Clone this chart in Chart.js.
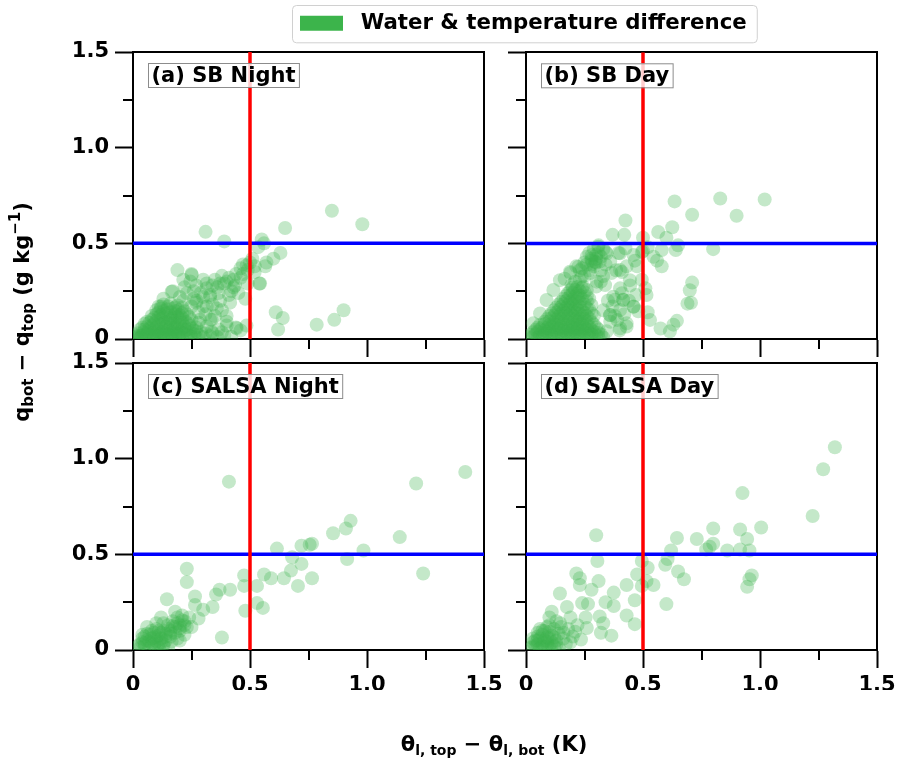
<!DOCTYPE html>
<html><head><meta charset="utf-8">
<script src="https://cdn.jsdelivr.net/npm/chart.js@4.4.1/dist/chart.umd.min.js"></script>
<style>
html,body{margin:0;padding:0;background:#fff;}
#wrap{position:relative;width:897px;height:762px;}
#wrap canvas{position:absolute;left:0;top:0;}
</style></head><body>
<div id="wrap">
<canvas id="cA" width="897" height="762"></canvas>
<canvas id="cB" width="897" height="762"></canvas>
<canvas id="cC" width="897" height="762"></canvas>
<canvas id="cD" width="897" height="762"></canvas>
</div>
<script>
const FAM = "'DejaVu Sans', sans-serif";
const axisTicks = [0, 0.5, 1.0, 1.5];
const tickLabels = ['0', '0.5', '1.0', '1.5'];
const minorTicks = [0.25, 0.75, 1.25];
const xThreshold = 0.5;
const yThreshold = 0.5;
const panelLabels = ['(a) SB Night', '(b) SB Day', '(c) SALSA Night', '(d) SALSA Day'];
const legendLabel = 'Water & temperature difference';

const sbNight = [
[0.85,0.67],[0.98,0.60],[0.65,0.58],[0.31,0.56],[0.39,0.51],[0.55,0.52],[0.56,0.50],[0.535,0.48],[0.63,0.45],[0.60,0.42],
[0.57,0.40],[0.565,0.38],[0.51,0.42],[0.50,0.40],[0.47,0.39],[0.46,0.37],[0.52,0.35],[0.44,0.34],[0.46,0.32],[0.54,0.29],
[0.49,0.29],[0.48,0.21],[0.43,0.27],[0.39,0.29],[0.36,0.27],[0.34,0.28],[0.315,0.265],[0.41,0.23],[0.365,0.24],[0.33,0.23],
[0.19,0.36],[0.25,0.34],[0.215,0.31],[0.245,0.30],[0.17,0.25],[0.13,0.21],[0.11,0.17],[0.215,0.20],[0.27,0.19],[0.30,0.17],
[0.34,0.18],[0.38,0.15],[0.33,0.10],[0.40,0.12],[0.40,0.07],[0.44,0.06],[0.46,0.045],[0.485,0.07],[0.365,0.05],[0.315,0.065],
[0.61,0.14],[0.64,0.11],[0.62,0.05],[0.785,0.075],[0.86,0.10],[0.90,0.15],
[0.315,0.29],[0.372,0.29],[0.40,0.30],[0.436,0.28],[0.486,0.385],[0.543,0.29],[0.329,0.22],[0.372,0.20],[0.272,0.20],[0.315,0.17],
[0.358,0.16],[0.415,0.19],[0.286,0.10],[0.336,0.10],[0.40,0.09],[0.443,0.056],[0.336,0.038],[0.251,0.056],[0.165,0.247],[0.251,0.335],
[0.20,0.22],[0.23,0.24],[0.26,0.25],[0.29,0.24],[0.22,0.27],[0.27,0.28],[0.30,0.31],[0.35,0.31],[0.38,0.33],[0.41,0.32],
[0.43,0.31],[0.47,0.34],[0.49,0.36],[0.52,0.38],[0.42,0.25],[0.45,0.24],[0.25,0.17],[0.28,0.14],[0.31,0.13],[0.35,0.12],
[0.30,0.22],[0.26,0.21],
[0.01,0.01],[0.03,0.005],[0.05,0.012],[0.07,0.008],[0.09,0.015],[0.11,0.01],[0.13,0.005],[0.15,0.012],[0.17,0.008],[0.19,0.015],
[0.21,0.01],[0.23,0.006],[0.25,0.012],[0.27,0.008],[0.30,0.01],[0.33,0.015],[0.36,0.01],[0.39,0.02],[0.42,0.012],
[0.02,0.03],[0.045,0.035],[0.065,0.04],[0.085,0.03],[0.105,0.04],[0.125,0.035],[0.145,0.045],[0.165,0.03],[0.185,0.04],[0.205,0.035],
[0.225,0.045],[0.245,0.03],[0.27,0.04],[0.29,0.035],
[0.04,0.06],[0.06,0.065],[0.08,0.07],[0.10,0.06],[0.12,0.075],[0.14,0.065],[0.16,0.07],[0.18,0.06],[0.20,0.075],[0.22,0.065],
[0.24,0.07],[0.27,0.06],
[0.06,0.09],[0.08,0.10],[0.10,0.095],[0.12,0.105],[0.14,0.09],[0.16,0.10],[0.18,0.095],[0.20,0.105],[0.225,0.09],[0.25,0.10],
[0.08,0.12],[0.10,0.13],[0.12,0.125],[0.14,0.135],[0.16,0.12],[0.18,0.13],[0.20,0.125],[0.23,0.13],
[0.10,0.15],[0.12,0.16],[0.145,0.155],[0.17,0.16],[0.195,0.15],[0.22,0.145],
[0.13,0.18],[0.16,0.185],[0.19,0.175],
[0.02,0.015],[0.04,0.02],[0.06,0.025],[0.08,0.015],[0.10,0.02],[0.12,0.025],[0.14,0.02],[0.16,0.018],[0.18,0.025],[0.20,0.02],
[0.05,0.05],[0.09,0.05],[0.13,0.055],[0.17,0.05],[0.21,0.055],[0.11,0.08],[0.15,0.085],[0.19,0.08],[0.13,0.11],[0.17,0.11],
[0.03,0.05],[0.07,0.055],[0.11,0.045],[0.15,0.05],[0.19,0.055],[0.23,0.05],[0.26,0.045],
[0.05,0.08],[0.07,0.085],[0.09,0.08],[0.13,0.085],[0.17,0.08],[0.21,0.085],[0.24,0.08],[0.28,0.085],
[0.09,0.11],[0.11,0.115],[0.15,0.11],[0.19,0.115],[0.21,0.11],[0.24,0.115],
[0.11,0.14],[0.13,0.145],[0.16,0.14],[0.18,0.145],[0.21,0.135],
[0.12,0.17],[0.15,0.17],[0.18,0.165],[0.21,0.165],
[0.005,0.005],[0.015,0.02],[0.035,0.015],[0.055,0.03],[0.075,0.02],[0.095,0.035],[0.115,0.025],[0.135,0.035],[0.155,0.025],[0.175,0.035],
[0.195,0.025],[0.215,0.03],[0.235,0.02],[0.26,0.025],[0.28,0.02],[0.31,0.03],[0.34,0.03],[0.38,0.035]
];

const sbDay = [
[1.02,0.73],[0.83,0.735],[0.635,0.72],[0.90,0.645],[0.71,0.65],[0.425,0.62],[0.625,0.585],[0.565,0.56],[0.37,0.545],[0.42,0.545],
[0.50,0.53],[0.60,0.53],[0.65,0.49],[0.64,0.465],[0.80,0.47],[0.58,0.465],[0.545,0.43],[0.56,0.41],[0.58,0.38],[0.495,0.455],
[0.465,0.41],[0.475,0.38],[0.425,0.475],[0.395,0.45],[0.31,0.49],[0.34,0.455],[0.28,0.41],[0.315,0.405],[0.36,0.405],[0.385,0.36],
[0.41,0.35],[0.365,0.345],[0.23,0.36],[0.19,0.345],[0.165,0.315],[0.215,0.38],[0.275,0.345],[0.32,0.30],[0.30,0.275],[0.445,0.28],
[0.495,0.31],[0.51,0.265],[0.515,0.23],[0.71,0.295],[0.70,0.255],[0.705,0.19],[0.69,0.185],[0.41,0.24],[0.38,0.205],[0.415,0.205],
[0.46,0.17],[0.48,0.145],[0.53,0.10],[0.52,0.14],[0.575,0.055],[0.615,0.04],[0.645,0.095],[0.63,0.075],[0.36,0.125],[0.38,0.12],
[0.40,0.045],[0.43,0.065],[0.345,0.04],
[0.26,0.43],[0.27,0.45],[0.29,0.47],[0.30,0.44],[0.25,0.40],[0.33,0.47],[0.24,0.37],[0.28,0.39],[0.30,0.42],[0.32,0.43],
[0.309,0.483],[0.281,0.439],[0.345,0.448],[0.402,0.448],[0.295,0.404],[0.402,0.361],[0.224,0.378],[0.188,0.352],[0.238,0.326],[0.195,0.282],
[0.245,0.273],[0.302,0.30],[0.338,0.282],[0.402,0.265],[0.444,0.308],[0.373,0.221],[0.416,0.204],[0.459,0.169],[0.402,0.152],[0.359,0.125],
[0.43,0.082],[0.402,0.056],[0.145,0.308],[0.117,0.256],[0.088,0.204],[0.06,0.134],[0.031,0.082],
[0.35,0.20],[0.37,0.17],[0.33,0.15],[0.36,0.09],[0.39,0.10],[0.42,0.13],[0.44,0.20],[0.47,0.23],[0.43,0.38],[0.46,0.44],
[0.50,0.46],[0.52,0.48],
[0.21,0.30],[0.23,0.31],[0.25,0.33],[0.27,0.36],[0.29,0.38],[0.26,0.39],[0.28,0.42],[0.31,0.45],[0.30,0.40],[0.32,0.36],
[0.34,0.39],[0.33,0.33],
[0.01,0.01],[0.03,0.012],[0.05,0.008],[0.07,0.012],[0.09,0.01],[0.11,0.014],[0.13,0.008],[0.15,0.012],[0.17,0.01],[0.19,0.014],
[0.21,0.008],[0.23,0.012],[0.25,0.01],[0.27,0.014],[0.29,0.01],[0.31,0.012],[0.33,0.008],
[0.03,0.035],[0.05,0.038],[0.07,0.032],[0.09,0.036],[0.11,0.034],[0.13,0.038],[0.15,0.032],[0.17,0.036],[0.19,0.034],[0.21,0.038],
[0.23,0.032],[0.25,0.036],[0.27,0.034],[0.29,0.038],[0.31,0.032],
[0.05,0.06],[0.07,0.062],[0.09,0.058],[0.11,0.064],[0.13,0.06],[0.15,0.062],[0.17,0.058],[0.19,0.064],[0.21,0.06],[0.23,0.062],
[0.25,0.058],[0.27,0.064],[0.30,0.06],
[0.08,0.09],[0.10,0.092],[0.12,0.088],[0.14,0.094],[0.16,0.09],[0.18,0.092],[0.20,0.088],[0.22,0.094],[0.24,0.09],[0.26,0.092],
[0.28,0.088],
[0.10,0.12],[0.12,0.122],[0.14,0.118],[0.16,0.124],[0.18,0.12],[0.20,0.122],[0.22,0.118],[0.24,0.124],[0.26,0.12],[0.29,0.122],
[0.12,0.15],[0.14,0.152],[0.16,0.148],[0.18,0.154],[0.20,0.15],[0.22,0.152],[0.24,0.148],[0.27,0.154],
[0.14,0.18],[0.16,0.182],[0.18,0.178],[0.20,0.184],[0.22,0.18],[0.25,0.182],[0.28,0.178],
[0.16,0.21],[0.18,0.212],[0.20,0.208],[0.22,0.214],[0.24,0.21],[0.27,0.212],
[0.18,0.24],[0.20,0.242],[0.22,0.238],[0.25,0.244],
[0.20,0.27],[0.22,0.272],[0.24,0.268],
[0.02,0.022],[0.04,0.025],[0.06,0.02],[0.08,0.025],[0.10,0.022],[0.12,0.026],[0.14,0.02],[0.16,0.024],[0.18,0.022],[0.20,0.026],
[0.22,0.02],[0.24,0.024],[0.26,0.022],[0.28,0.026],[0.30,0.02],[0.32,0.024],
[0.04,0.048],[0.06,0.05],[0.08,0.046],[0.10,0.05],[0.12,0.048],[0.14,0.052],[0.16,0.046],[0.18,0.05],[0.20,0.048],[0.22,0.052],
[0.24,0.046],[0.26,0.05],[0.28,0.048],[0.31,0.05],
[0.06,0.075],[0.08,0.078],[0.10,0.072],[0.12,0.076],[0.14,0.074],[0.16,0.078],[0.18,0.072],[0.20,0.076],[0.22,0.074],[0.24,0.078],
[0.26,0.072],[0.29,0.076],
[0.09,0.105],[0.11,0.108],[0.13,0.102],[0.15,0.106],[0.17,0.104],[0.19,0.108],[0.21,0.102],[0.23,0.106],[0.25,0.104],[0.27,0.108],
[0.11,0.135],[0.13,0.138],[0.15,0.132],[0.17,0.136],[0.19,0.134],[0.21,0.138],[0.23,0.132],[0.25,0.136],[0.28,0.134],
[0.13,0.165],[0.15,0.168],[0.17,0.162],[0.19,0.166],[0.21,0.164],[0.23,0.168],[0.26,0.162],
[0.15,0.195],[0.17,0.198],[0.19,0.192],[0.21,0.196],[0.23,0.194],[0.26,0.198],
[0.17,0.225],[0.19,0.228],[0.21,0.222],[0.23,0.226],[0.26,0.224],
[0.19,0.255],[0.21,0.258],[0.23,0.252],[0.26,0.256]
];

const salsaNight = [
[1.42,0.93],[1.21,0.87],[0.41,0.88],[0.93,0.675],[0.91,0.635],[0.855,0.61],[1.14,0.59],[0.765,0.555],[0.72,0.545],[0.755,0.55],
[0.615,0.53],[0.985,0.52],[0.68,0.485],[0.915,0.475],[0.72,0.45],[0.675,0.415],[1.24,0.40],[0.765,0.375],[0.645,0.375],[0.59,0.375],
[0.56,0.395],[0.705,0.335],[0.475,0.39],[0.475,0.335],[0.53,0.335],[0.415,0.315],[0.37,0.315],[0.355,0.29],[0.53,0.245],[0.555,0.22],
[0.48,0.205],[0.34,0.225],[0.30,0.21],[0.265,0.28],[0.265,0.235],[0.23,0.425],[0.23,0.355],[0.145,0.265],[0.28,0.165],[0.25,0.12],
[0.38,0.065],
[0.03,0.01],[0.05,0.02],[0.07,0.01],[0.09,0.015],[0.11,0.01],[0.13,0.02],[0.15,0.01],[0.04,0.04],[0.06,0.05],[0.08,0.035],
[0.10,0.045],[0.12,0.04],[0.14,0.05],[0.05,0.07],[0.07,0.08],[0.09,0.065],[0.11,0.075],[0.08,0.10],[0.10,0.11],[0.12,0.09],
[0.14,0.085],[0.16,0.10],[0.18,0.12],[0.20,0.13],[0.22,0.15],[0.17,0.15],[0.19,0.17],[0.21,0.18],[0.15,0.13],[0.13,0.14],
[0.20,0.10],[0.23,0.12],[0.24,0.17],[0.18,0.20],[0.16,0.07],[0.19,0.06],[0.22,0.08],[0.12,0.17],[0.10,0.14],[0.06,0.12],
[0.04,0.08],[0.02,0.02],[0.165,0.045],[0.20,0.05],
[0.03,0.03],[0.05,0.035],[0.07,0.045],[0.09,0.03],[0.11,0.035],[0.13,0.03],[0.04,0.06],[0.06,0.085],[0.08,0.06],[0.10,0.07],
[0.12,0.06],[0.14,0.07],[0.16,0.085],[0.18,0.09],[0.20,0.115],[0.22,0.13],[0.19,0.14],[0.21,0.155],[0.17,0.125],[0.15,0.11],
[0.13,0.10],[0.11,0.10],[0.09,0.09]
];

const salsaDay = [
[1.32,1.06],[1.27,0.945],[0.925,0.82],[1.225,0.70],[1.005,0.64],[0.915,0.63],[0.80,0.635],[0.30,0.60],[0.645,0.585],[0.73,0.58],
[0.945,0.58],[0.80,0.555],[0.785,0.54],[0.77,0.525],[0.86,0.52],[0.915,0.525],[0.955,0.52],[0.62,0.52],[0.605,0.475],[0.595,0.445],
[0.305,0.465],[0.495,0.465],[0.52,0.43],[0.65,0.41],[0.675,0.37],[0.965,0.39],[0.955,0.37],[0.945,0.33],[0.475,0.395],[0.515,0.36],
[0.545,0.34],[0.495,0.335],[0.43,0.34],[0.375,0.30],[0.465,0.26],[0.60,0.24],[0.43,0.18],[0.465,0.135],[0.215,0.40],[0.23,0.375],
[0.23,0.34],[0.31,0.36],[0.28,0.315],[0.145,0.295],[0.34,0.25],[0.375,0.23],[0.24,0.245],[0.265,0.24],[0.175,0.225],[0.11,0.20],
[0.19,0.17],[0.255,0.17],[0.315,0.175],[0.33,0.14],[0.26,0.115],[0.32,0.09],[0.365,0.075],[0.21,0.095],[0.235,0.055],[0.145,0.14],
[0.10,0.17],
[0.02,0.01],[0.04,0.02],[0.06,0.01],[0.08,0.015],[0.10,0.01],[0.12,0.02],[0.14,0.01],[0.03,0.04],[0.05,0.05],[0.07,0.035],
[0.09,0.045],[0.11,0.04],[0.13,0.05],[0.05,0.07],[0.07,0.08],[0.09,0.065],[0.11,0.075],[0.08,0.10],[0.10,0.095],[0.12,0.11],
[0.14,0.085],[0.16,0.06],[0.17,0.03],[0.19,0.04],[0.06,0.11],[0.03,0.06],[0.15,0.12],[0.13,0.15],[0.10,0.13],
[0.03,0.02],[0.05,0.03],[0.07,0.02],[0.09,0.03],[0.11,0.025],[0.13,0.03],[0.04,0.05],[0.06,0.06],[0.08,0.05],[0.10,0.06],
[0.12,0.065],[0.07,0.10],[0.09,0.12],[0.05,0.09],[0.20,0.07],[0.18,0.11],[0.22,0.13],[0.16,0.09]
];

const GREEN = '#3cb44b';
const GREEN_PT = 'rgba(60,180,75,0.3)';

const minorTickPlugin = {
  id: 'minorTicks',
  afterDraw(chart) {
    const ctx = chart.ctx, xs = chart.scales.x, ys = chart.scales.y;
    ctx.save();
    ctx.strokeStyle = '#000'; ctx.lineWidth = 2;
    ctx.beginPath();
    minorTicks.forEach(v => {
      const px = Math.round(xs.getPixelForValue(v));
      ctx.moveTo(px, xs.top); ctx.lineTo(px, xs.top + 10);
      const py = Math.round(ys.getPixelForValue(v));
      ctx.moveTo(ys.right, py); ctx.lineTo(ys.right - 10, py);
    });
    ctx.stroke();
    ctx.restore();
  }
};

const panelLabelPlugin = {
  id: 'panelLabel',
  afterDatasetsDraw(chart, args, opts) {
    const ctx = chart.ctx, ca = chart.chartArea;
    ctx.save();
    ctx.font = 'bold 21px ' + FAM;
    const w = ctx.measureText(opts.text).width;
    const bx = ca.left + 15, by = ca.top + 11, bw = w + 7, bh = 24;
    ctx.fillStyle = 'rgba(255,255,255,0.8)';
    ctx.fillRect(bx, by, bw, bh);
    ctx.strokeStyle = '#8c8c8c'; ctx.lineWidth = 1;
    ctx.strokeRect(bx + 0.5, by + 0.5, bw, bh);
    ctx.fillStyle = '#000'; ctx.textBaseline = 'alphabetic'; ctx.textAlign = 'left';
    ctx.fillText(opts.text, bx + 3.5, by + 18.5);
    ctx.restore();
  }
};

const legendFramePlugin = {
  id: 'legendFrame',
  beforeDraw(chart) {
    const lg = chart.legend;
    if (!lg || !lg.legendHitBoxes || !lg.legendHitBoxes.length) return;
    const hb = lg.legendHitBoxes[0];
    const x0 = hb.left - 8, y0 = hb.top - 7.5, x1 = hb.left + hb.width + 10, y1 = hb.top + hb.height + 8.5;
    const ctx = chart.ctx;
    ctx.save();
    ctx.beginPath();
    ctx.roundRect(x0 + 0.5, y0 + 0.5, x1 - x0, y1 - y0, 4);
    ctx.fillStyle = 'rgba(255,255,255,0.8)';
    ctx.fill();
    ctx.strokeStyle = '#d0d0d0'; ctx.lineWidth = 1;
    ctx.stroke();
    ctx.restore();
  }
};

function drawRich(ctx, segs, cx, baseY) {
  let total = 0;
  const widths = segs.map(s => { ctx.font = 'bold ' + s[1] + 'px ' + FAM; const w = ctx.measureText(s[0]).width; total += w; return w; });
  let x = cx - total / 2;
  ctx.textAlign = 'left'; ctx.textBaseline = 'alphabetic';
  segs.forEach((s, i) => { ctx.font = 'bold ' + s[1] + 'px ' + FAM; ctx.fillText(s[0], x, baseY + s[2]); x += widths[i]; });
}

const axisTitlePlugin = {
  id: 'axisTitles',
  afterDraw(chart) {
    const ctx = chart.ctx;
    ctx.save();
    ctx.fillStyle = '#000';
    drawRich(ctx, [['θ', 21, 0], ['l, top', 14, 4], [' − ', 21, 0], ['θ', 21, 0], ['l, bot', 14, 4], [' (K)', 21, 0]], 494, 751);
    ctx.translate(29, 312);
    ctx.rotate(-Math.PI / 2);
    drawRich(ctx, [['q', 21, 0], ['bot', 15, 4], [' − q', 21, 0], ['top', 15, 4], [' (g kg', 21, 0], ['−1', 15, -9], [')', 21, 0]], 0, 0);
    ctx.restore();
  }
};

function legendLabels(chart) {
  const g = chart.ctx.createLinearGradient(300, 0, 350, 0);
  g.addColorStop(0, GREEN); g.addColorStop(0.86, GREEN);
  g.addColorStop(0.86, 'rgba(255,255,255,0)'); g.addColorStop(1, 'rgba(255,255,255,0)');
  return [{ text: legendLabel, fillStyle: g, strokeStyle: 'rgba(0,0,0,0)', lineWidth: 0, hidden: false, datasetIndex: 2, fontColor: '#000' }];
}

function makePanel(id, pts, label, o) {
  const tickFont = { family: FAM, size: 21, weight: 'bold' };
  const plugins = [minorTickPlugin, panelLabelPlugin];
  if (o.legend) plugins.push(legendFramePlugin);
  if (o.titles) plugins.push(axisTitlePlugin);
  return new Chart(document.getElementById(id), {
    type: 'scatter',
    data: {
      datasets: [
        { label: 'x threshold', data: [{ x: xThreshold, y: 0 }, { x: xThreshold, y: 1.5 }], showLine: true,
          borderColor: '#ff0000', borderWidth: 3.5, pointRadius: 0, order: 0 },
        { label: 'y threshold', data: [{ x: 0, y: yThreshold }, { x: 1.5, y: yThreshold }], showLine: true,
          borderColor: '#0000ff', borderWidth: 3.5, pointRadius: 0, order: 1 },
        { label: legendLabel, data: pts.map(p => ({ x: p[0], y: p[1] })), backgroundColor: GREEN_PT,
          borderWidth: 0, pointRadius: 7, pointHoverRadius: 7, order: 2, clip: 0 }
      ]
    },
    options: {
      responsive: false, animation: false, devicePixelRatio: 1,
      layout: { padding: o.pad },
      events: [],
      plugins: {
        tooltip: { enabled: false },
        panelLabel: { text: label },
        legend: o.legend ? {
          display: true, position: 'top', align: 'start',
          labels: {
            boxWidth: 50, boxHeight: 15, padding: 10, color: '#000',
            font: { family: FAM, size: 21.3, weight: 'bold' },
            generateLabels: legendLabels
          }
        } : { display: false }
      },
      scales: {
        x: {
          type: 'linear', position: 'bottom', min: 0, max: 1.5,
          afterBuildTicks: s => { s.ticks = axisTicks.map(v => ({ value: v })); },
          afterFit: s => { s.height = 40; s.paddingLeft = 0; s.paddingRight = 0; },
          ticks: { callback: v => o.showX ? tickLabels[axisTicks.indexOf(v)] : '', font: tickFont, color: '#000', padding: 5, maxRotation: 0, autoSkip: false },
          grid: { drawOnChartArea: false, drawTicks: true, tickLength: 18, tickWidth: 2, tickColor: '#000' },
          border: { display: true, color: '#000', width: 2 }
        },
        y: {
          type: 'linear', position: 'left', min: 0, max: 1.5,
          afterBuildTicks: s => { s.ticks = axisTicks.map(v => ({ value: v })); },
          afterFit: s => { s.width = o.yW; s.paddingTop = 0; s.paddingBottom = 0; },
          ticks: { callback: v => o.showY ? tickLabels[axisTicks.indexOf(v)] : '', font: tickFont, color: '#000', padding: 6, autoSkip: false },
          grid: { drawOnChartArea: false, drawTicks: true, tickLength: 18, tickWidth: 2, tickColor: '#000' },
          border: { display: true, color: '#000', width: 2 }
        },
        xTop: {
          type: 'linear', position: 'top', min: 0, max: 1.5,
          afterFit: s => { s.height = o.topH; s.paddingLeft = 0; s.paddingRight = 0; },
          ticks: { display: false }, grid: { display: false },
          border: { display: true, color: '#000', width: 2 }
        },
        yRight: {
          type: 'linear', position: 'right', min: 0, max: 1.5,
          afterFit: s => { s.width = 8; s.paddingTop = 0; s.paddingBottom = 0; },
          ticks: { display: false }, grid: { display: false },
          border: { display: true, color: '#000', width: 2 }
        }
      }
    },
    plugins: plugins
  });
}

makePanel('cA', sbNight, panelLabels[0], { pad: { left: 73, top: 44, right: 405, bottom: 383 }, yW: 60, topH: 8, showX: false, showY: true });
makePanel('cB', sbDay, panelLabels[1], { pad: { left: 290, top: 2.5, right: 12, bottom: 383 }, yW: 236, topH: 8.5, showX: false, showY: false, legend: true });
makePanel('cC', salsaNight, panelLabels[2], { pad: { left: 73, top: 355, right: 405, bottom: 72 }, yW: 60, topH: 8, showX: true, showY: true, titles: true });
makePanel('cD', salsaDay, panelLabels[3], { pad: { left: 466, top: 355, right: 12, bottom: 72 }, yW: 60, topH: 8, showX: true, showY: false });
</script>
</body></html>
